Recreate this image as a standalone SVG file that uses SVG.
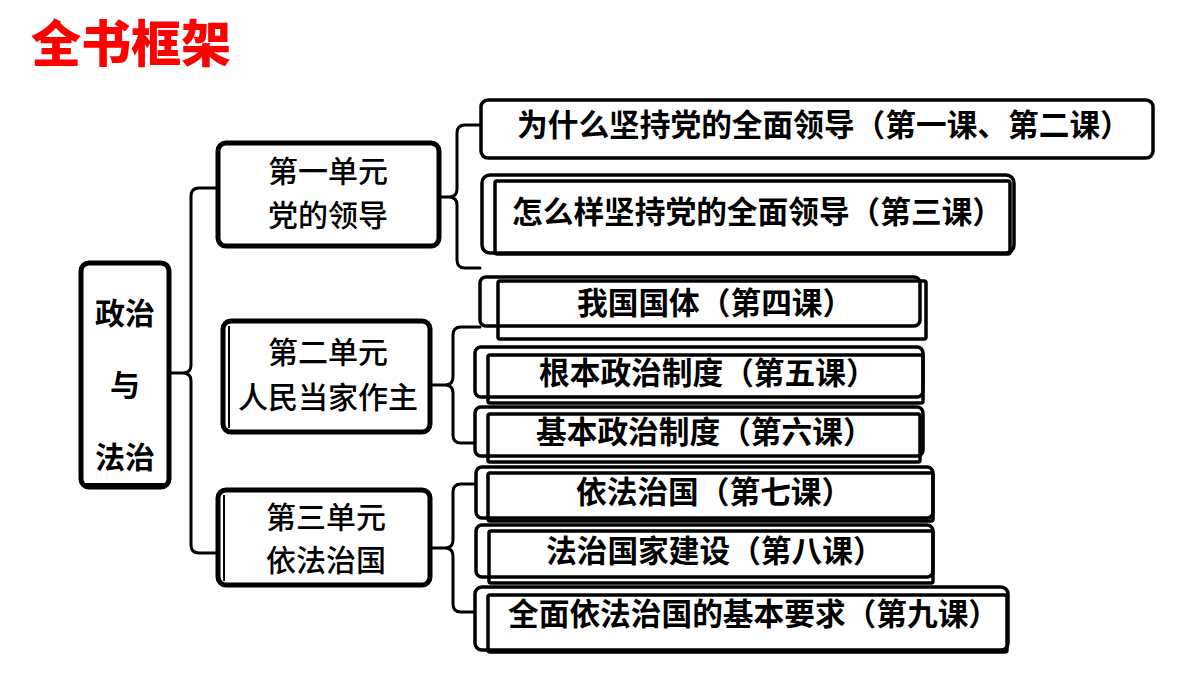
<svg xmlns="http://www.w3.org/2000/svg" width="1200" height="675" viewBox="0 0 1200 675">
<style>
.bg{fill:#fff}
.box{fill:#fff;stroke:#000;stroke-width:3.5}
.inner{fill:none;stroke:#000;stroke-width:3.5}
.ubox{fill:#fff;stroke:#000;stroke-width:5}
.con{fill:none;stroke:#000;stroke-width:3;stroke-linejoin:round;stroke-linecap:round}
.t{font-family:"Noto Sans CJK SC","Noto Sans CJK TC",sans-serif;fill:#000}
.leaf{font-size:30.7px;font-weight:700}
.unit{font-size:30px;font-weight:500;text-anchor:middle}
.root{font-size:30px;font-weight:700;text-anchor:middle}
.title{font-family:"Noto Sans CJK SC",sans-serif;font-size:50px;font-weight:900;fill:#ff0000}
</style>
<rect class="bg" x="0" y="0" width="1200" height="675"/>
<text class="title" x="31" y="62">全书框架</text>

<g id="connectors">
  <path class="con" d="M216,188 L199,188 Q191,188 191,196 L191,365 Q191,373 183,373 L170,373 M183,373 Q191,373 191,381 L191,545 Q191,553 199,553 L216,553"/>
  <path class="con" d="M481,125 L465,125 Q457,125 457,133 L457,189 Q457,197 449,197 L439,197 M449,197 Q457,197 457,205 L457,260 Q457,268 465,268 L480,268"/>
  <path class="con" d="M480,327 L461,327 Q453,327 453,335 L453,377 Q453,385 445,385 L430,385 M445,385 Q453,385 453,393 L453,435 Q453,443 461,443 L476,443"/>
  <path class="con" d="M476,484 L461,484 Q453,484 453,492 L453,540 Q453,548 445,548 L430,548 M445,548 Q453,548 453,556 L453,604 Q453,612 461,612 L476,612"/>
</g>

<g id="root">
  <rect class="ubox" x="81" y="263" width="88" height="224" rx="8"/>
  <line x1="84" y1="484" x2="166" y2="484" stroke="#000" stroke-width="2"/>
  <text class="t root" x="125" y="324">政治</text>
  <text class="t root" x="125" y="396">与</text>
  <text class="t root" x="125" y="468">法治</text>
</g>

<g id="unit1">
  <rect class="ubox" x="218" y="143" width="221" height="103" rx="8"/>
  <text class="t unit" x="328" y="182">第一单元</text>
  <text class="t unit" x="328" y="226">党的领导</text>
</g>
<g id="unit2">
  <rect class="ubox" x="223" y="321" width="207" height="111" rx="8"/>
  <line x1="229" y1="326" x2="229" y2="428" stroke="#000" stroke-width="2"/>
  <text class="t unit" x="328" y="363">第二单元</text>
  <text class="t unit" x="328" y="408">人民当家作主</text>
</g>
<g id="unit3">
  <rect class="ubox" x="218" y="490" width="212" height="95" rx="8"/>
  <line x1="224" y1="495" x2="224" y2="581" stroke="#000" stroke-width="2"/>
  <text class="t unit" x="326" y="528">第三单元</text>
  <text class="t unit" x="326" y="571">依法治国</text>
</g>

<g id="leaf1">
  <rect class="box" x="481" y="100" width="672" height="58" rx="7"/>
  <text class="t leaf" x="517" y="136">为什么坚持党的全面领导（第一课、第二课）</text>
</g>
<g id="leaf2">
  <rect class="box" x="482" y="175" width="532" height="78" rx="8"/>
  <rect class="inner" x="495" y="181" width="515" height="73" rx="2"/>
  <text class="t leaf" x="512" y="223">怎么样坚持党的全面领导（第三课）</text>
</g>
<g id="leaf3">
  <rect class="box" x="480" y="277" width="440" height="49" rx="6"/>
  <rect class="inner" x="498" y="281" width="428" height="58" rx="2"/>
  <text class="t leaf" x="577" y="314">我国国体（第四课）</text>
</g>
<g id="leaf4">
  <rect class="box" x="475" y="347" width="448" height="50" rx="6"/>
  <rect class="inner" x="488" y="355" width="435" height="48" rx="2"/>
  <text class="t leaf" x="539" y="384">根本政治制度（第五课）</text>
</g>
<g id="leaf5">
  <rect class="box" x="475" y="407" width="448" height="49" rx="6"/>
  <rect class="inner" x="488" y="414" width="432" height="48" rx="2"/>
  <text class="t leaf" x="536" y="443">基本政治制度（第六课）</text>
</g>
<g id="leaf6">
  <rect class="box" x="476" y="467" width="457" height="51" rx="6"/>
  <rect class="inner" x="488" y="473" width="445" height="48" rx="2"/>
  <text class="t leaf" x="576" y="503">依法治国（第七课）</text>
</g>
<g id="leaf7">
  <rect class="box" x="476" y="525" width="457" height="52" rx="6"/>
  <rect class="inner" x="489" y="531" width="444" height="52" rx="2"/>
  <text class="t leaf" x="546" y="562">法治国家建设（第八课）</text>
</g>
<g id="leaf8">
  <rect class="box" x="475" y="587" width="533" height="63" rx="7"/>
  <rect class="inner" x="488" y="595" width="519" height="57" rx="2"/>
  <text class="t leaf" x="508" y="625">全面依法治国的基本要求（第九课）</text>
</g>
</svg>
